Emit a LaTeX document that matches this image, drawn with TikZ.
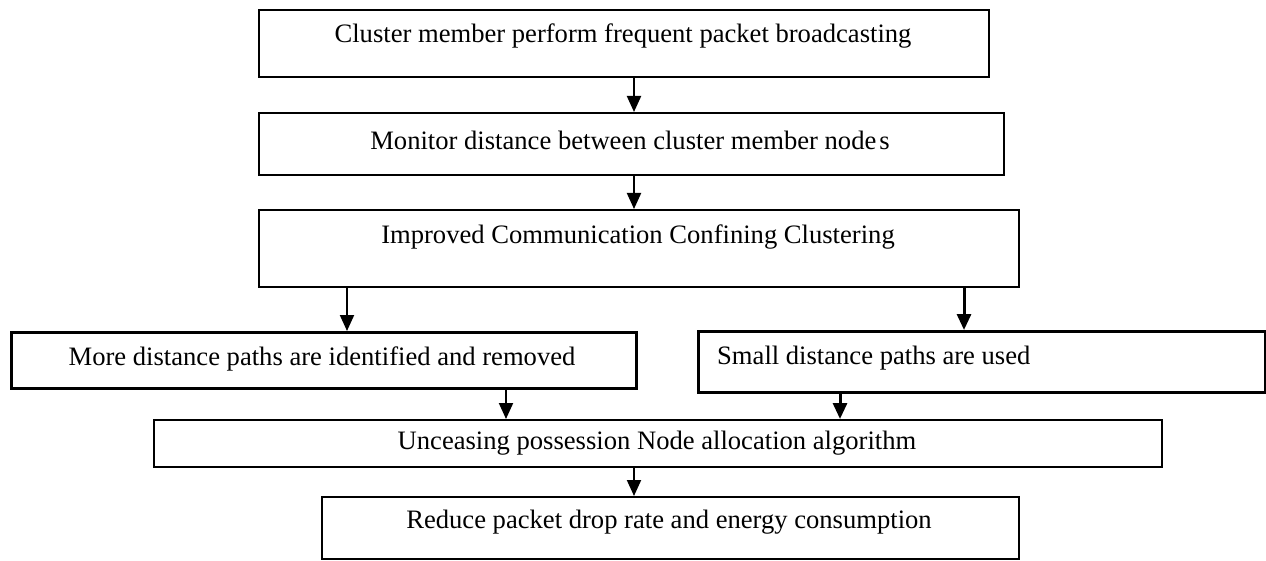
\documentclass[tikz,border=0pt]{standalone}
\usepackage{fontspec}
\setmainfont{Liberation Serif}
\usetikzlibrary{arrows.meta}
\begin{document}
\begin{tikzpicture}[x=1pt,y=-1pt,
  box/.style={draw, line width=2pt, inner sep=0pt, anchor=north west},
  boxthick/.style={box, line width=2.6pt},
  lbl/.style={font=\fontsize{26.6}{30}\selectfont, inner sep=0pt},
  arr/.style={line width=2pt, -{Triangle[width=14pt,length=16pt]}},
  thickarr/.style={line width=3pt, -{Triangle[width=14pt,length=16pt]}}]
\useasboundingbox (0,0) rectangle (1266,561);

% boxes
\node[box, minimum width=730pt, minimum height=67pt] (b1) at (258,9) {};
\node[box, minimum width=745pt, minimum height=62pt] (b2) at (258,112) {};
\node[box, minimum width=760pt, minimum height=77pt] (b3) at (258,209) {};
\node[boxthick, minimum width=625pt, minimum height=56pt] (b4) at (10,331) {};
\node[boxthick, minimum width=567pt, minimum height=61pt] (b5) at (697,330) {};
\node[box, minimum width=1008pt, minimum height=47pt] (b6) at (153,419) {};
\node[box, minimum width=697pt, minimum height=62pt] (b7) at (321,496) {};

% texts
\node[lbl] (t1) at (623,36) {Cluster member perform frequent packet broadcasting};
\node[lbl] (t2) at (630,140) {Monitor distance between cluster member node\kern3pt s};
\node[lbl] (t3) at (638,237) {Improved Communication Confining Clustering};
\node[lbl] (t4) at (322,359) {More distance paths are identified and removed};
\node[lbl, anchor=west] (t5) at (717,358) {Small distance paths are used};
\node[lbl] (t6) at (657,443) {Unceasing possession Node allocation algorithm};
\node[lbl] (t7) at (669,522) {Reduce packet drop rate and energy consumption};

% connector columns
\coordinate (cmain) at (634,0);
\coordinate (cl) at (347,0);
\coordinate (cr) at (964,0);
\coordinate (cl2) at (506,0);
\coordinate (cr2) at (840,0);

\draw[arr] (b1.south -| cmain) -- (b2.north -| cmain);
\draw[arr] (b2.south -| cmain) -- (b3.north -| cmain);
\draw[arr] (b3.south -| cl) -- (b4.north -| cl);
\draw[thickarr] (b3.south -| cr) -- (b5.north -| cr);
\draw[arr] (b4.south -| cl2) -- (b6.north -| cl2);
\draw[thickarr] (b5.south -| cr2) -- (b6.north -| cr2);
\draw[arr] (b6.south -| cmain) -- (b7.north -| cmain);
\end{tikzpicture}
\end{document}
